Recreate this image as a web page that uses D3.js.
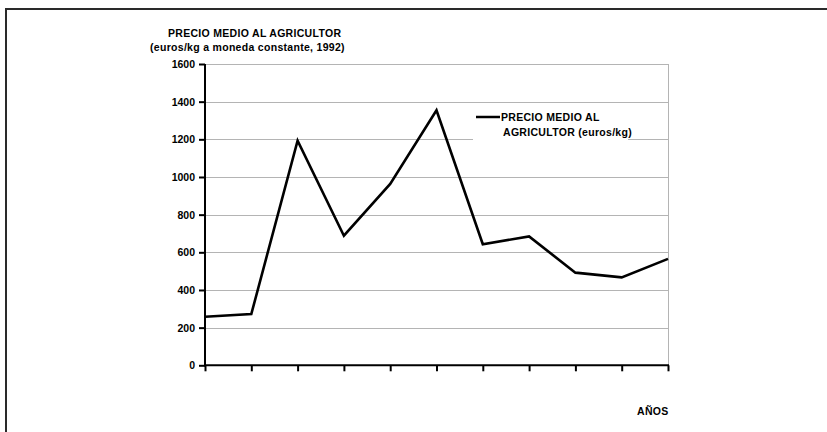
<!DOCTYPE html>
<html>
<head>
<meta charset="utf-8">
<script src="https://cdn.jsdelivr.net/npm/d3@7"></script>
<style>
  html, body { margin: 0; padding: 0; background: #fff; }
  svg { display: block; font-family: "Liberation Sans", Arial, sans-serif; font-weight: bold; }
</style>
</head>
<body>
<svg id="chart" width="827" height="432"></svg>
<script>
// Average producer price, euros/kg at constant 1992 currency, one value per year
const years = ["1", "2", "3", "4", "5", "6", "7", "8", "9", "10", "11"];
const prices = [258, 272, 1193, 688, 963, 1354, 643, 684, 492, 467, 565];
const yTicks = [0, 200, 400, 600, 800, 1000, 1200, 1400, 1600];
const titleLines = ["PRECIO MEDIO AL AGRICULTOR", "(euros/kg a moneda constante, 1992)"];
const legendLines = ["PRECIO MEDIO AL", "AGRICULTOR (euros/kg)"];
const xTitle = "AÑOS";

const svg = d3.select("#chart");

// outer frame (top and left edges visible)
svg.append("path")
  .attr("d", "M6,432 V9 H827")
  .attr("fill", "none")
  .attr("stroke", "#2a2a2a")
  .attr("stroke-width", 2);

const plot = { left: 205, right: 668, top: 64, bottom: 365.3 };

const x = d3.scalePoint().domain(years).range([plot.left, plot.right]);
const y = d3.scaleLinear().domain([0, 1600]).range([plot.bottom, plot.top]);

// horizontal gridlines
svg.append("g")
  .selectAll("line")
  .data(yTicks.filter(d => d > 0))
  .join("line")
  .attr("x1", plot.left)
  .attr("x2", plot.right)
  .attr("y1", d => Math.round(y(d)) + 0.5)
  .attr("y2", d => Math.round(y(d)) + 0.5)
  .attr("stroke", "#b4b4b4")
  .attr("stroke-width", 1);

// right edge of plot area
svg.append("line")
  .attr("x1", plot.right + 0.5).attr("x2", plot.right + 0.5)
  .attr("y1", plot.top).attr("y2", plot.bottom)
  .attr("stroke", "#b4b4b4");

// legend box covering the gridlines
const legend = svg.append("g").attr("transform", "translate(473,104)");
legend.append("rect")
  .attr("width", 155).attr("height", 37)
  .attr("fill", "#fff");
legend.append("line")
  .attr("x1", 3).attr("x2", 27)
  .attr("y1", 13).attr("y2", 13)
  .attr("stroke", "#000").attr("stroke-width", 2.5);
legend.selectAll("text")
  .data(legendLines)
  .join("text")
  .attr("x", (d, i) => i === 0 ? 28 : 30)
  .attr("y", (d, i) => 17 + i * 14.5)
  .attr("font-size", 10.5)
  .attr("letter-spacing", 0.3)
  .attr("fill", "#000")
  .text(d => d);

// y axis
const yAxis = svg.append("g")
  .attr("transform", `translate(${plot.left},0)`)
  .call(d3.axisLeft(y).tickValues(yTicks).tickSize(6).tickPadding(4).tickFormat(d3.format("d")));
yAxis.select(".domain").attr("stroke", "#000").attr("stroke-width", 2)
  .attr("d", `M0,${plot.top}V${plot.bottom + 1}`);
yAxis.selectAll(".tick line").attr("stroke", "#000").attr("stroke-width", 2);
yAxis.selectAll(".tick text")
  .attr("font-family", "Liberation Sans, Arial, sans-serif")
  .attr("font-weight", "bold")
  .attr("font-size", 10.5)
  .attr("fill", "#000");

// x axis (ticks only, no labels)
const xAxis = svg.append("g")
  .attr("transform", `translate(0,${plot.bottom})`)
  .call(d3.axisBottom(x).tickSize(6).tickFormat(""));
xAxis.select(".domain").attr("stroke", "#000").attr("stroke-width", 2)
  .attr("d", `M${plot.left - 1},0H${plot.right + 1}`);
xAxis.selectAll(".tick line").attr("stroke", "#000").attr("stroke-width", 2);

// price line
svg.append("path")
  .datum(prices)
  .attr("fill", "none")
  .attr("stroke", "#000")
  .attr("stroke-width", 2.6)
  .attr("stroke-linejoin", "miter")
  .attr("d", d3.line().x((d, i) => x(years[i])).y(d => y(d)));

// chart title (value axis)
svg.append("g").selectAll("text")
  .data(titleLines)
  .join("text")
  .attr("x", (d, i) => i === 0 ? 168 : 150)
  .attr("y", (d, i) => 37 + i * 14)
  .attr("font-size", 10.5)
  .attr("letter-spacing", 0.3)
  .attr("fill", "#000")
  .text(d => d);

// category axis title
svg.append("text")
  .attr("x", 637)
  .attr("y", 415)
  .attr("font-size", 10.5)
  .attr("letter-spacing", 0.3)
  .attr("fill", "#000")
  .text(xTitle);
</script>
</body>
</html>
